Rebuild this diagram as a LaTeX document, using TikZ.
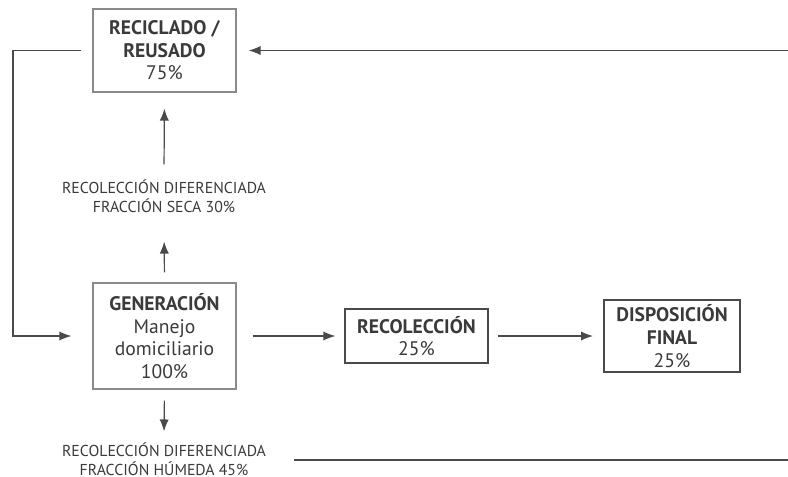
\documentclass[tikz,border=0pt]{standalone}
\usepackage{fontspec}
\setmainfont{PT Sans}
\usetikzlibrary{positioning,arrows.meta}
\definecolor{textgray}{HTML}{3A3A3A}
\definecolor{linegray}{HTML}{4A4A4A}
\definecolor{boxlight}{HTML}{8A8A8A}
\definecolor{boxdark}{HTML}{4A4A4A}
\begin{document}
\begin{tikzpicture}[
  x=0.5pt, y=-0.5pt,
  box/.style={rectangle, draw=boxlight, line width=0.6pt, align=center, inner sep=2pt,
    text=textgray, font=\fontsize{9.8}{11.3}\selectfont},
  darkbox/.style={box, draw=boxdark},
  note/.style={align=center, text=textgray, font=\fontsize{7.9}{9.5}\selectfont},
  flow/.style={-{Latex[length=6pt,width=4.6pt]}, line width=0.6pt, draw=linegray},
  plain/.style={line width=0.6pt, draw=linegray}
]
\useasboundingbox (0,0) rectangle (788,477);

\node[box, minimum width=71.5pt, minimum height=41.5pt] (recic) at (164.5,50.5)
  {\textbf{RECICLADO /}\\\textbf{REUSADO}\\75\%};
\node[note] (seca) at (164,196) {RECOLECCIÓN DIFERENCIADA\\FRACCIÓN SECA 30\%};
\node[box, minimum width=71.5pt, minimum height=53pt] (gen) at (164.5,336)
  {\textbf{GENERACIÓN}\\Manejo\\domiciliario\\100\%};
\node[darkbox, minimum width=71.5pt, minimum height=27pt] (recol) at (416.5,336)
  {\textbf{RECOLECCIÓN}\\25\%};
\node[darkbox, line width=1pt, minimum width=68pt, minimum height=36pt] (disp) at (672,336)
  {\textbf{DISPOSICIÓN}\\\textbf{FINAL}\\25\%};
\node[note] (humeda) at (164,459) {RECOLECCIÓN DIFERENCIADA\\FRACCIÓN HÚMEDA 45\%};

% corners of the loops
\coordinate (loopTop) at (13,50.5);
\coordinate (loopBot) at (13,336);
\coordinate (wetStart) at (294,460);
\coordinate (wetEnd) at (788,460);
\coordinate (backStart) at (788,50.5);

\draw[flow, shorten <=5pt, shorten >=11pt] (gen.north) -- (seca.south);
\draw[flow, shorten <=4pt, shorten >=8pt] (seca.north) -- (recic.south);
\draw[flow, shorten <=8pt, shorten >=4.5pt] (gen.east) -- (recol.west);
\draw[flow, shorten <=4.5pt, shorten >=5pt] (recol.east) -- (disp.west);
\draw[flow, shorten <=5.5pt, shorten >=2pt] (gen.south) -- (humeda.north);
\draw[flow, shorten <=5.5pt, shorten >=10.5pt] (recic.west) -- (loopTop) -- (loopBot) -- (gen.west);
\draw[plain] (wetStart) -- (wetEnd);
\draw[flow, shorten >=6pt] (backStart) -- (recic.east);
\end{tikzpicture}
\end{document}
